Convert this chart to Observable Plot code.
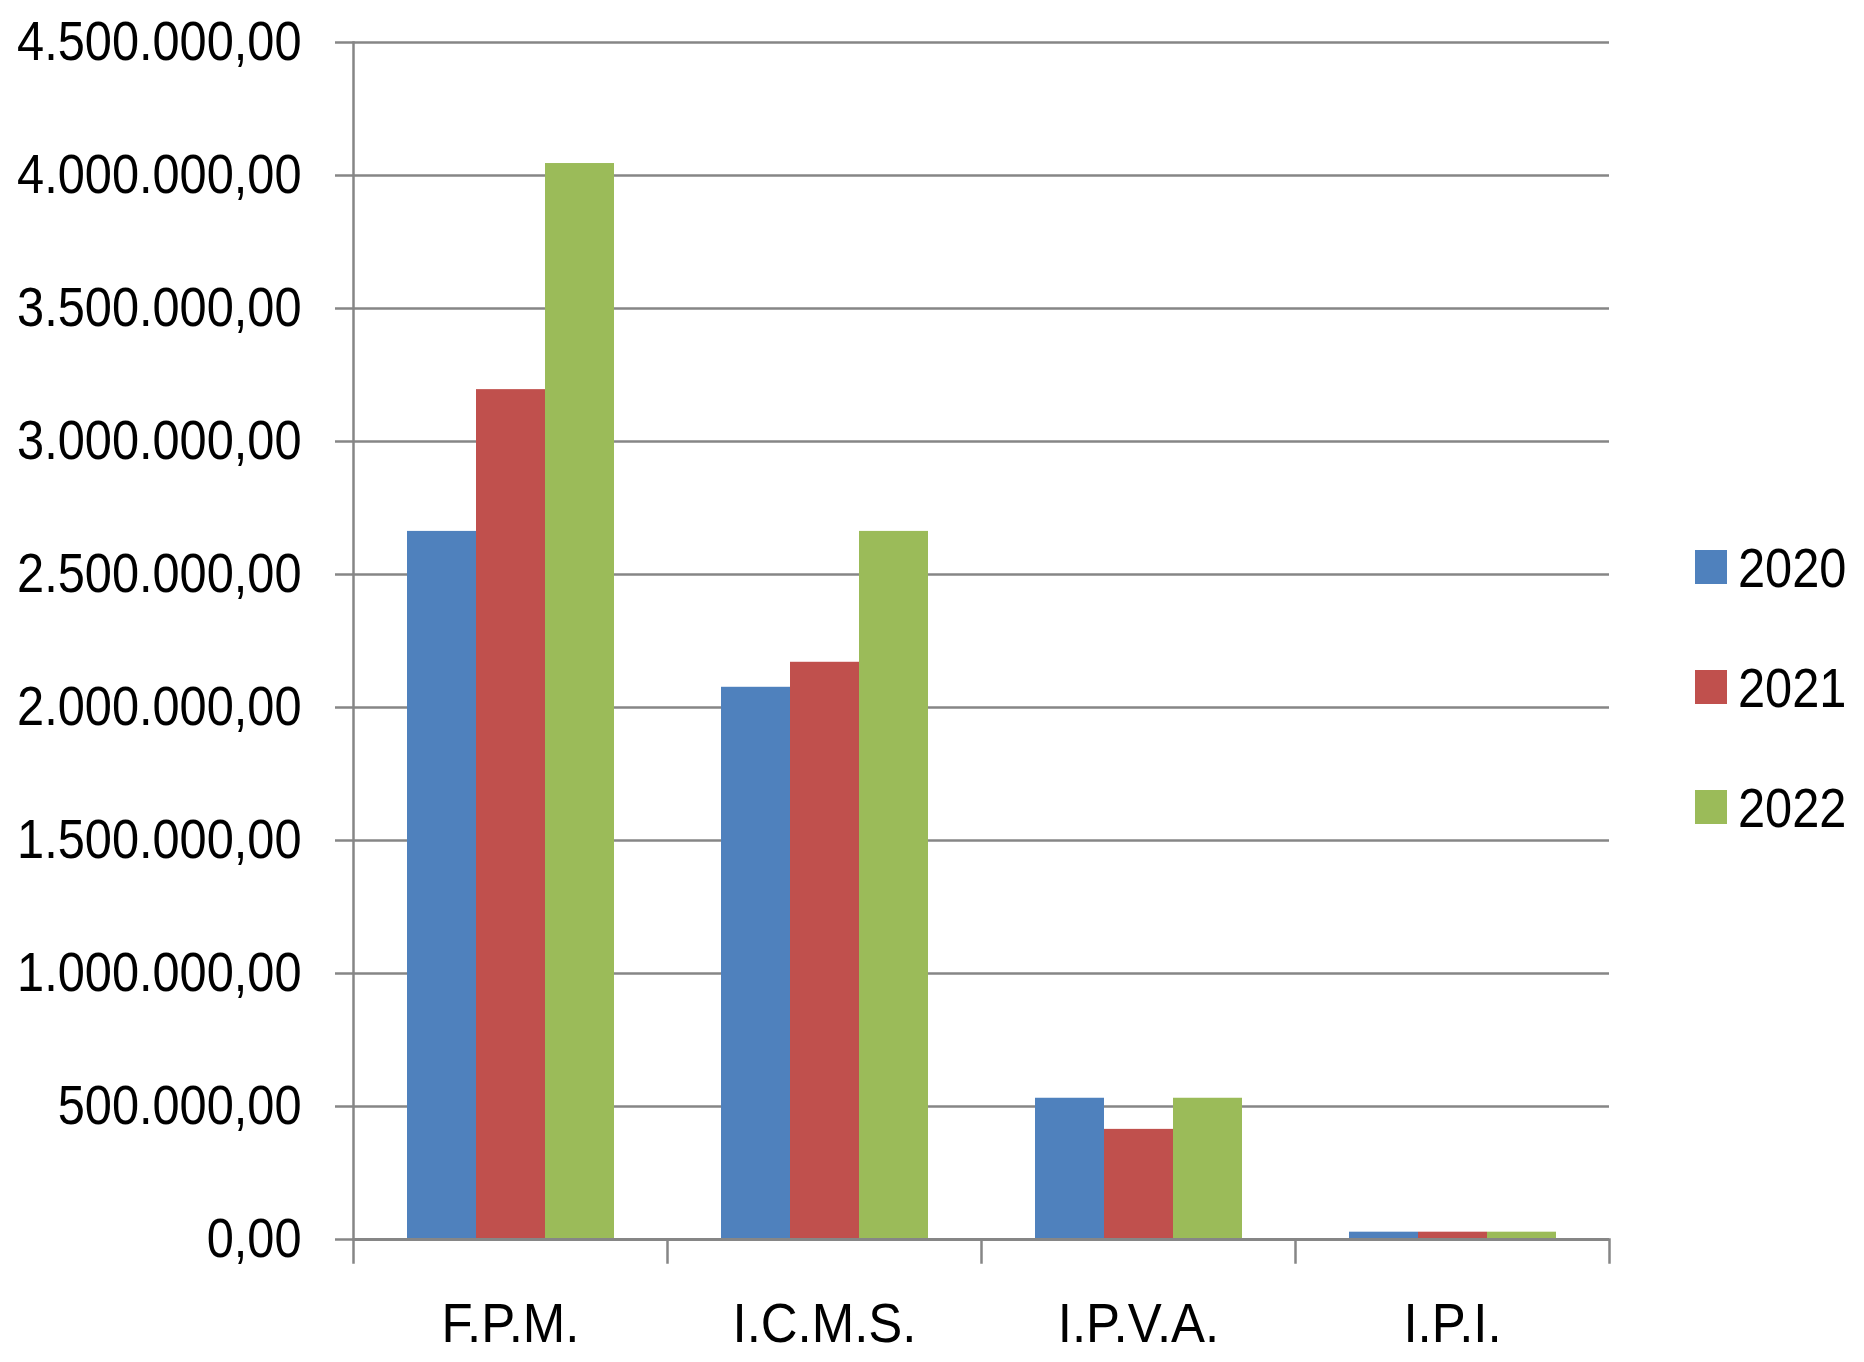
<!DOCTYPE html>
<html>
<head>
<meta charset="utf-8">
<script src="https://cdn.jsdelivr.net/npm/d3@7"></script>
<script src="https://cdn.jsdelivr.net/npm/@observablehq/plot@0.6"></script>
<style>
  html, body { margin: 0; padding: 0; background: #fff; }
  #wrap { position: relative; width: 1864px; height: 1362px; }
  #legend { position: absolute; left: 1695px; top: 507px; width: 169px; }
  #legend .lg-swatches { font-family: "Liberation Sans", Arial, sans-serif; font-size: 56px; color: #000; margin: 0 !important; min-height: 0 !important; columns: auto !important; }
  #legend .lg-swatch { height: 120px; display: flex !important; align-items: center; padding: 0 !important; margin: 0 !important; }
  #legend .lg-swatch svg { margin-right: 11px !important; flex-shrink: 0; }
  #legend .lg-swatch > div, #legend .lg-swatch-label { max-width: none !important; overflow: visible !important; display: inline-block; transform: scaleX(0.87); transform-origin: left center; }
</style>
</head>
<body>
<div id="wrap"><div id="chart"></div><div id="legend"></div></div>
<script>
// ---- data ----
const categories = ["F.P.M.", "I.C.M.S.", "I.P.V.A.", "I.P.I."];
const years = ["2020", "2021", "2022"];
const values2020 = [2662000, 2076000, 531000, 27500];
const values2021 = [3195000, 2170000, 414000, 27500];
const values2022 = [4045000, 2662000, 531000, 27500];
const yTicks = [0, 500000, 1000000, 1500000, 2000000, 2500000, 3000000, 3500000, 4000000, 4500000];
const colors = ["#4F81BD", "#C0504D", "#9BBB59"];

const seriesByYear = [values2020, values2021, values2022];
const data = categories.flatMap((c, i) =>
  years.map((yr, j) => ({category: c, year: yr, value: seriesByYear[j][i]}))
);

const fmt = d3.formatLocale({decimal: ",", thousands: ".", grouping: [3], currency: ["R$", ""]}).format(",.2f");

const W = 1680, H = 1362, mT = 42, mB = 123, mL = 352, mR = 70;
const frameH = H - mT - mB;
const gray = "#868686";
const font = "'Liberation Sans', Arial, sans-serif";
const narrowY = 0.87;  // horizontal condensing of the tick labels (narrow look of the original)
const narrowFx = 0.91;

const plot = Plot.plot({
  width: W, height: H,
  marginTop: mT, marginBottom: mB, marginLeft: mL, marginRight: mR,
  style: {fontFamily: font, fontSize: "56px", color: "#000", background: "#fff", overflow: "visible"},
  fx: {domain: categories, padding: 0, label: null, axis: null},
  x: {domain: years, paddingInner: 0, paddingOuter: 0.76, axis: null},
  y: {domain: [0, 4500000], axis: null},
  color: {domain: years, range: colors},
  marks: [
    Plot.gridY(yTicks, {stroke: gray, strokeOpacity: 1, strokeWidth: 2.5}),
    Plot.barY(data, {fx: "category", x: "year", y: "value", fill: "year"}),
    Plot.ruleY([0], {stroke: gray, strokeWidth: 3}),
    Plot.frame({anchor: "left", facetAnchor: "left", stroke: gray, strokeWidth: 2.5}),
    Plot.frame({anchor: "left", stroke: gray, strokeWidth: 2.5, insetTop: frameH, insetBottom: -23}),
    Plot.frame({anchor: "right", facetAnchor: "right", stroke: gray, strokeWidth: 2.5, insetTop: frameH, insetBottom: -23}),
    Plot.axisY({ticks: yTicks, tickFormat: fmt, tickSize: 18, tickPadding: 34, stroke: gray, strokeWidth: 2.5, label: null, fontSize: 56, className: "ylab"}),
    Plot.axisFx({anchor: "bottom", tickSize: 0, tickPadding: 63, label: null, fontSize: 56, className: "fxlab"})
  ]
});

// condense the text horizontally around its anchor point
function condense(selector, k) {
  plot.querySelectorAll(selector).forEach((el) => {
    const t = el.getAttribute("transform") || "";
    let pre = "";
    const xs = el.getAttribute("x");
    if (xs !== null && /^-?[\d.]+$/.test(xs.trim())) {
      pre = ` translate(${+xs},0)`;
      el.removeAttribute("x");
    }
    el.setAttribute("transform", `${t}${pre} scale(${k},1)`);
  });
}
condense(".ylab text", narrowY);
condense(".fxlab text", narrowFx);
document.getElementById("chart").appendChild(plot);

const legend = plot.legend("color", {columns: 1, swatchWidth: 32, swatchHeight: 34, className: "lg"});
document.getElementById("legend").appendChild(legend);
</script>
</body>
</html>
